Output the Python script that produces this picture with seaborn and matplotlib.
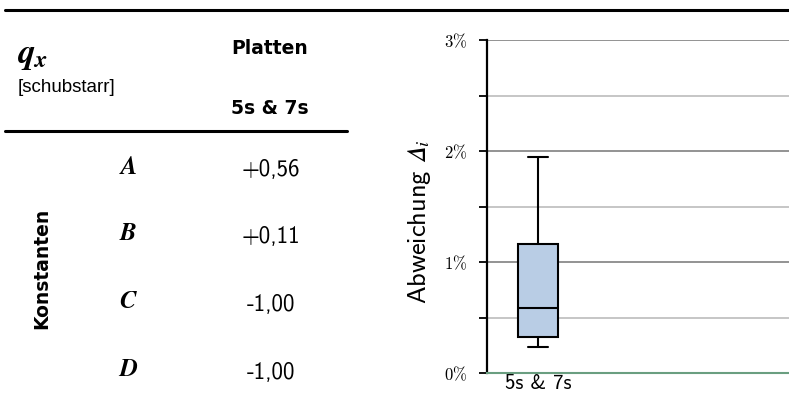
import matplotlib
matplotlib.use("Agg")
import matplotlib.pyplot as plt
import seaborn as sns
from matplotlib.lines import Line2D
from matplotlib.ticker import FixedLocator, FuncFormatter

# Daten
gruppe = "5s & 7s"
# Fünf-Punkte-Zusammenfassung der Abweichung in % (min, q1, median, q3, max)
abweichung = [0.23, 0.32, 0.59, 1.16, 1.95]
konstanten = ["A", "B", "C", "D"]
werte = ["+0,56", "+0,11", "-1,00", "-1,00"]
y_major = [0, 1, 2, 3]
y_minor = [0.5, 1.5, 2.5]

sns.set_theme(style="white")
plt.rcParams["font.family"] = ["cmss10", "DejaVu Sans"]
plt.rcParams["mathtext.fontset"] = "cm"
plt.rcParams["axes.unicode_minus"] = False
for key in ["text.color", "axes.labelcolor", "xtick.color", "ytick.color"]:
    plt.rcParams[key] = "black"

W, H = 789, 398
fig = plt.figure(figsize=(W / 100, H / 100), dpi=100)


def fx(px):
    return px / W


def fy(py):
    return 1 - py / H


# Tabelle links
fig.add_artist(Line2D([fx(5), fx(789)], [fy(10), fy(10)], color="black", lw=2.2))
fig.add_artist(Line2D([fx(5), fx(347)], [fy(131), fy(131)], color="black", lw=2.2))

fig.text(fx(17), fy(56), r"$\mathbfit{q_x}$", fontsize=25, ha="left", va="center",
         math_fontfamily="stix")
fig.text(fx(18), fy(87), "[schubstarr]", fontsize=13.5, ha="left", va="center",
         family=["Liberation Sans"])
fig.text(fx(270), fy(48), "Platten", fontsize=13.5, ha="center", va="center",
         family=["DejaVu Sans"], weight="bold")
fig.text(fx(270), fy(108), gruppe, fontsize=13.5, ha="center", va="center",
         family=["DejaVu Sans"], weight="bold")
fig.text(fx(42), fy(268), "Konstanten", fontsize=13.5, ha="center", va="center",
         rotation=90, family=["DejaVu Sans"], weight="bold")

zeilen_y = [167, 234, 302, 370]
for k, w, py in zip(konstanten, werte, zeilen_y):
    fig.text(fx(128), fy(py), r"$\mathbfit{%s}$" % k, fontsize=18, ha="center",
             va="center", math_fontfamily="stix")
    fig.text(fx(271), fy(py + 3), w, fontsize=16.5, ha="center", va="center")

# Boxplot rechts
ax = fig.add_axes([fx(487), fy(373), fx(789) - fx(487), fy(40) - fy(373)])
sns.boxplot(x=[gruppe] * len(abweichung), y=abweichung, ax=ax, width=0.39,
            color="#b9cde5", saturation=1, linecolor="black", linewidth=1.5,
            whis=1.5)

ax.set_xlim(-0.5, 2.46)
ax.set_ylim(0, 3)
ax.yaxis.set_major_locator(FixedLocator(y_major))
ax.yaxis.set_minor_locator(FixedLocator(y_minor))
ax.yaxis.set_major_formatter(FuncFormatter(lambda v, p: r"$%d\%%$" % v))
ax.grid(False)
for v in y_major[1:]:
    ax.axhline(v, color="#8a8a8a", lw=1.3, zorder=0.5)
for v in y_minor:
    ax.axhline(v, color="#c2c2c2", lw=1.3, zorder=0.5)

for s in ["top", "right"]:
    ax.spines[s].set_visible(False)
ax.spines["left"].set_color("black")
ax.spines["left"].set_linewidth(1.6)
ax.spines["bottom"].set_color("#6a9e80")
ax.spines["bottom"].set_linewidth(1.5)

ax.tick_params(axis="y", which="both", direction="out", length=6, width=1.3,
               color="black", left=True, labelsize=12, pad=8)
ax.tick_params(axis="x", length=0, labelsize=15, pad=1)
ax.set_ylabel("Abweichung $\U0001D6E5_i$", fontsize=19, labelpad=8)
ax.yaxis.label.set_math_fontfamily("stix")
ax.yaxis.label.set_y(0.455)
ax.set_xlabel("")

fig.savefig("out.png", dpi=100)
